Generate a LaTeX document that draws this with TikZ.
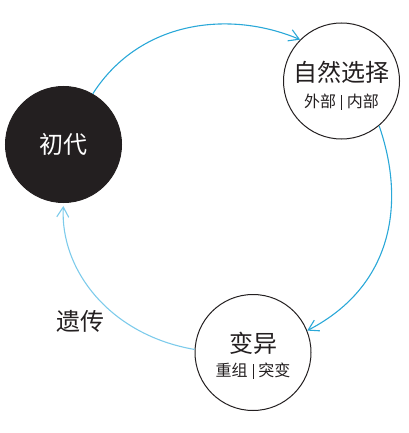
\documentclass[tikz,border=0pt]{standalone}
\usepackage{fontspec}
\setmainfont{Noto Sans CJK SC}
\usetikzlibrary{arrows.meta}
\definecolor{ink}{HTML}{231F20}
\definecolor{arcblue}{HTML}{2AA8D8}
\definecolor{arclight}{HTML}{7DCBEB}
\newcommand{\sepbar}{\hspace{5pt}\rule[-2pt]{0.9pt}{15pt}\hspace{5pt}}
\tikzset{
  stage/.style={circle, draw=ink, line width=1pt, fill=white, minimum size=116pt, inner sep=0pt, align=center, text=ink},
  first/.style={stage, fill=ink, text=white},
  flow/.style={line width=1.1pt, -{Straight Barb[length=10pt,width=12pt,line width=1.1pt]}},
  title/.style={font=\fontsize{24}{26}\selectfont},
  sub/.style={font=\fontsize{16}{18}\selectfont}
}
\begin{document}
\begin{tikzpicture}[x=1pt,y=-1pt]
\useasboundingbox (0,0) rectangle (408,433);
\node[first] (chudai) at (63.5,144.5) {\fontsize{24}{26}\selectfont 初代};
\node[stage] (ziran) at (341.5,81) {};
\node[stage] (bianyi) at (253,352.5) {};
\node[title, text=ink] (zt) at (341.5,72) {自然选择};
\node[sub, text=ink] (zs) at (341.5,102) {外部\sepbar 内部};
\node[title, text=ink] (bt) at (253,343) {变异};
\node[sub, text=ink] (bs) at (253,371) {重组\sepbar 突变};
\node[title, text=ink] (yc) at (80,321) {遗传};
\draw[flow, arcblue] (chudai.60) .. controls (140,20) and (230,10) .. (ziran.135);
\draw[flow, arcblue] (ziran.-50) .. controls (405,200) and (395,285) .. (bianyi.22);
\draw[flow, arclight, shorten >=3pt] (bianyi.177) .. controls (110,335) and (60,270) .. (chudai.-90);
\end{tikzpicture}
\end{document}
